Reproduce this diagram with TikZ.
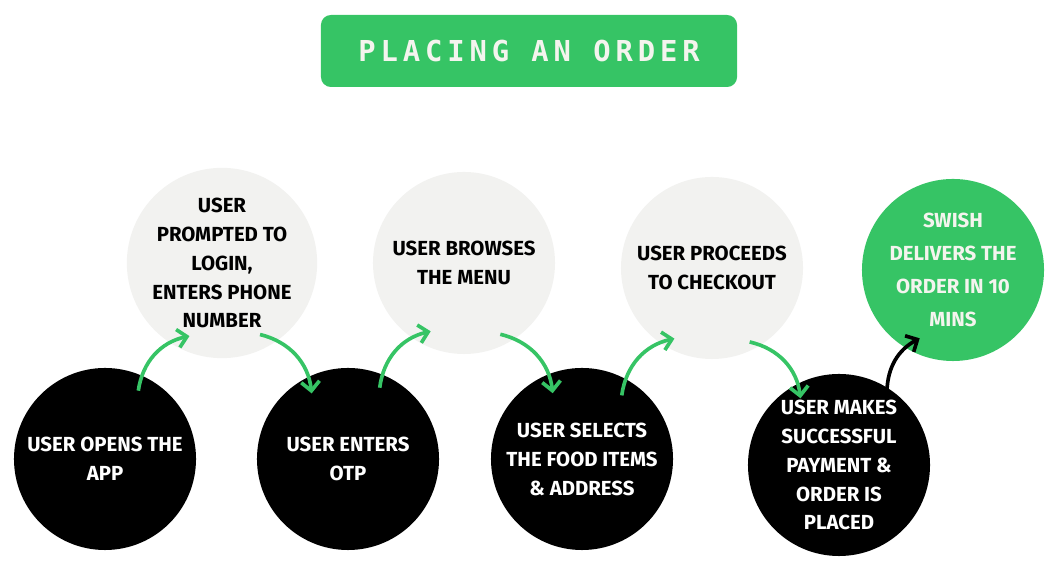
\documentclass[tikz,border=0pt]{standalone}
\usepackage{fontspec}
\setmainfont{Fira Sans}
\newfontfamily\titlefont[LetterSpace=17]{DejaVu Sans Mono}
\usepackage{xcolor}
\usepackage{tikz}
\usetikzlibrary{arrows.meta, calc}
\definecolor{swishgreen}{HTML}{36C465}
\definecolor{softgrey}{HTML}{F2F2F0}
\definecolor{offwhite}{HTML}{F4F4EE}
\newcommand{\usercolor}{black}
\newcommand{\appcolor}{softgrey}
\newcommand{\donecolor}{swishgreen}
\newcommand{\stepfont}{\fontsize{14.5}{20.6}\selectfont\bfseries}
\tikzstyle{header} = [rectangle, rounded corners=0.25cm,
minimum width=10.4cm,
minimum height=1.8cm,
fill=\donecolor, text=offwhite,
font=\titlefont\fontsize{20.5}{24}\selectfont\bfseries]
\tikzstyle{userstep} = [circle,
minimum size=4.55cm, inner sep=0pt,
align=center, font=\stepfont,
fill=\usercolor, text=white]
\tikzstyle{appstep} = [circle,
minimum size=4.55cm, inner sep=0pt,
align=center, font=\stepfont,
fill=\appcolor, text=black]
\tikzstyle{donestep} = [circle,
minimum size=4.55cm, inner sep=0pt,
align=center, font=\fontsize{14.5}{23.5}\selectfont\bfseries,
fill=\donecolor, text=offwhite]
\tikzstyle{arrow} = [line width=2.6pt, \donecolor,
-{Straight Barb[length=6.5pt, width=13pt]}]

\begin{document}
\begin{tikzpicture}[x=0.025cm, y=0.025cm]
\useasboundingbox (0,0) rectangle (1053,577);

%-----------title
\node (header) [header] at (529,526) {PLACING AN ORDER};

%-----------user steps (black)
\node (open) [userstep] at (105,118) {USER OPENS THE\\APP};
\node (otp) [userstep] at (348,118) {USER ENTERS\\OTP};
\node (select) [userstep] at (582,118)
  {USER SELECTS\\THE FOOD ITEMS\\\& ADDRESS};
\node (pay) [userstep] at (839,112)
  {USER MAKES\\SUCCESSFUL\\PAYMENT \&\\ORDER IS\\PLACED};

%-----------app steps (grey)
\node (login) [appstep] at (222,314)
  {USER\\PROMPTED TO\\LOGIN,\\ENTERS PHONE\\NUMBER};
\node (menu) [appstep] at (464,314) {USER BROWSES\\THE MENU};
\node (checkout) [appstep] at (712,309) {USER PROCEEDS\\TO CHECKOUT};

%-----------delivery
\node (deliver) [donestep] at (953,307)
  {SWISH\\DELIVERS THE\\ORDER IN 10\\MINS};

\draw [arrow] ($(open.center)+(64:76)$) to[bend left=35] ($(login.center)+(246:80)$);
\draw [arrow] ($(login.center)+(298:81)$) to[bend left=35] ($(otp.center)+(119:75)$);
\draw [arrow] ($(otp.center)+(66:78)$) to[bend left=35] ($(menu.center)+(244:76)$);
\draw [arrow] ($(menu.center)+(297:80)$) to[bend left=35] ($(select.center)+(114:72)$);
\draw [arrow] ($(select.center)+(58:75)$) to[bend left=35] ($(checkout.center)+(242:80)$);
\draw [arrow] ($(checkout.center)+(297:83)$) to[bend left=35] ($(pay.center)+(120:77)$);
\draw [arrow, black] ($(pay.center)+(57:88)$) to[bend left=30] ($(deliver.center)+(244:76)$);

\end{tikzpicture}
\end{document}
